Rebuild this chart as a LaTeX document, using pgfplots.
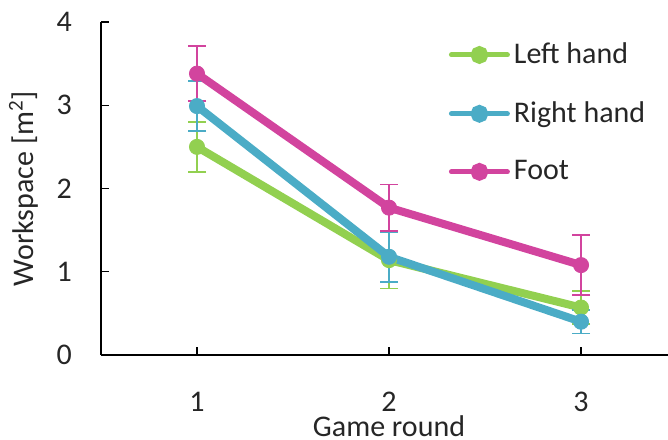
\documentclass[border=0pt]{standalone}
\usepackage{pgfplots}
\pgfplotsset{compat=1.18}
\usepackage{fontspec}
\setmainfont{Carlito}
\definecolor{cgreen}{RGB}{146,208,80}
\definecolor{ccyan}{RGB}{75,172,198}
\definecolor{cpink}{RGB}{210,68,158}
\begin{document}
\begin{tikzpicture}[x=0.5pt,y=0.5pt]
\useasboundingbox (-101,-84) rectangle (567,355);
\begin{axis}[
  at={(0,0)}, anchor=south west,
  scale only axis,
  width=283.5pt, height=166.5pt,
  xmin=0.5, xmax=3.453, ymin=0, ymax=4,
  axis x line*=bottom, axis y line*=left,
  axis line style={black, line width=0.6pt},
  xtick={1,2,3}, ytick={0,1,2,3,4},
  tick align=inside, major tick length=4pt,
  tick style={black, line width=0.6pt},
  /pgf/number format/assume math mode=true,
  font=\fontsize{15}{17}\selectfont,
  tick label style={font=\fontsize{15}{17}\selectfont, text=black!85},
  xticklabel style={yshift=-15pt},
  yticklabel style={xshift=-11pt},
  xlabel={Game round}, ylabel={Workspace [m\textsuperscript{2}]},
  label style={font=\fontsize{15}{17}\selectfont, text=black!85},
  xlabel style={at={(axis cs:2,0)}, anchor=north, yshift=-27pt},
  ylabel style={at={(axis description cs:0,0.5)}, anchor=south, yshift=28pt},
  legend style={draw=none, fill=none, at={(axis cs:2.31,3.80)}, anchor=north west,
    font=\fontsize{15}{17}\selectfont, text=black!85,
    row sep=13.5pt, inner sep=0pt, /tikz/every even column/.append style={column sep=1pt}},
  legend cell align=left,
  legend image code/.code={
    \draw[#1, line width=2.5pt, line cap=round] (0pt,0pt) -- (28pt,0pt);
    \fill[#1] (14pt,0pt) circle (2.4pt);
  },
  clip=false,
]
\addplot[cgreen, line width=4pt, mark=*, mark size=3.8pt, mark options={line width=0.4pt},
  error bars/.cd, y dir=both, y explicit,
  error bar style={line width=0.8pt, cgreen}, error mark options={rotate=90, line width=0.8pt, cgreen, mark size=4.5pt}]
  coordinates {(1,2.50) +- (0,0.30) (2,1.14) +- (0,0.34) (3,0.57) +- (0,0.20)};
\addlegendentry{Left hand}
\addplot[ccyan, line width=4pt, mark=*, mark size=3.8pt, mark options={line width=0.4pt},
  error bars/.cd, y dir=both, y explicit,
  error bar style={line width=0.8pt, ccyan}, error mark options={rotate=90, line width=0.8pt, ccyan, mark size=4.5pt}]
  coordinates {(1,2.99) +- (0,0.30) (2,1.18) +- (0,0.30) (3,0.40) +- (0,0.14)};
\addlegendentry{Right hand}
\addplot[cpink, line width=4pt, mark=*, mark size=3.8pt, mark options={line width=0.4pt},
  error bars/.cd, y dir=both, y explicit,
  error bar style={line width=0.8pt, cpink}, error mark options={rotate=90, line width=0.8pt, cpink, mark size=4.5pt}]
  coordinates {(1,3.38) +- (0,0.33) (2,1.77) +- (0,0.28) (3,1.08) +- (0,0.36)};
\addlegendentry{Foot}
\end{axis}
\end{tikzpicture}
\end{document}
